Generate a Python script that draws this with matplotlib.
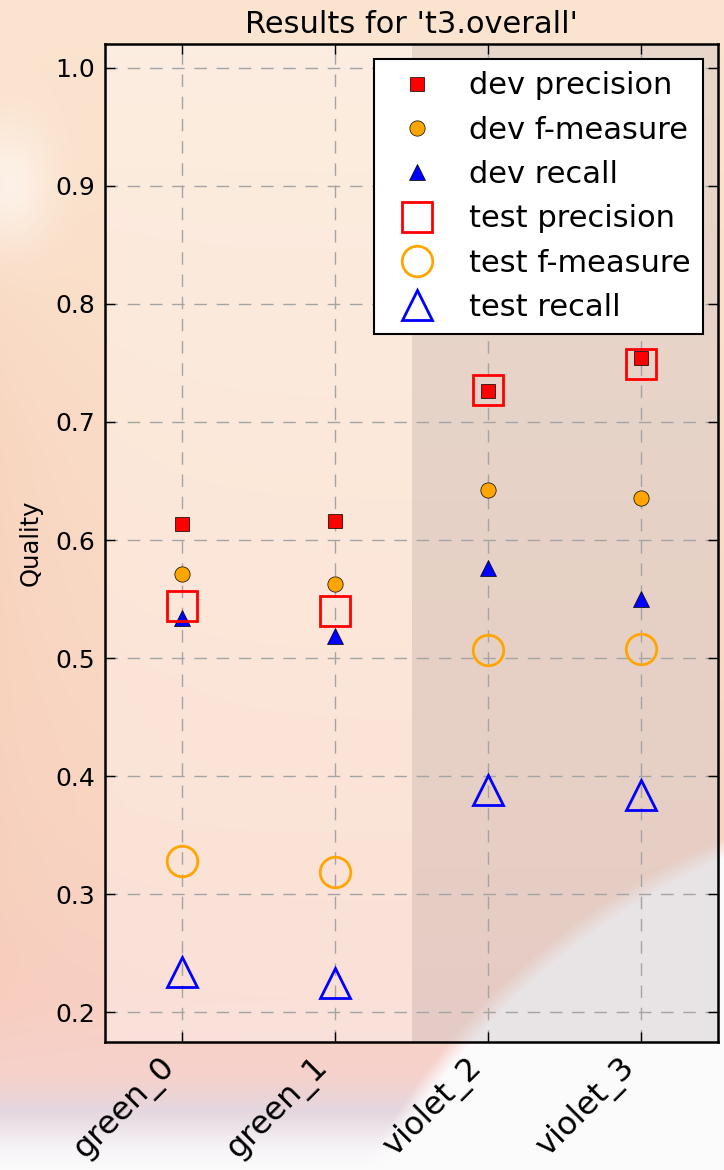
import numpy as np
import matplotlib
matplotlib.use('Agg')
import matplotlib.pyplot as plt


# data
runs = ['green_0', 'green_1', 'violet_2', 'violet_3']
dev_precision = [0.614, 0.616, 0.726, 0.754]
dev_fmeasure = [0.571, 0.563, 0.642, 0.636]
dev_recall = [0.534, 0.519, 0.576, 0.550]
test_precision = [0.544, 0.540, 0.727, 0.749]
test_fmeasure = [0.328, 0.319, 0.507, 0.508]
test_recall = [0.234, 0.225, 0.388, 0.384]
yticks = [0.2, 0.3, 0.4, 0.5, 0.6, 0.7, 0.8, 0.9, 1.0]


# background picture (peach wash, white splash, pale planet lower right)
H, W = 1170, 724
yy, xx = np.mgrid[0:H, 0:W].astype(float)

ys = [0, 400, 800, 1000, 1075, 1110, 1150, 1170]
cols = np.array([[251, 229, 208], [250, 222, 200], [249, 214, 195],
                 [248, 208, 196], [246, 210, 204], [228, 214, 222],
                 [248, 245, 248], [252, 252, 252]]) / 255.
bg = np.stack([np.interp(yy, ys, cols[:, k]) for k in range(3)], axis=-1)

# more saturated on the left edge
m = 0.35 * np.exp(-xx / 70.) * np.clip((yy - 150) / 300., 0, 1) * np.clip((1080 - yy) / 100., 0, 1)
bg = bg * (1 - m[..., None]) + np.array([245, 200, 178]) / 255. * m[..., None]

# white splash top left
m = 0.55 * np.exp(-(((xx - 10) / 40.) ** 2 + ((yy - 185) / 60.) ** 2))
bg = bg * (1 - m[..., None]) + m[..., None]

# planet
d = np.sqrt((xx - 1005) ** 2 + (yy - 1506) ** 2)
m = np.clip((716 - d) / 18. + 0.5, 0, 1)
bg = bg * (1 - m[..., None]) + np.array([252, 251, 252]) / 255. * m[..., None]


fig = plt.figure(figsize=(7.24, 11.7), dpi=100)
fig.figimage(bg, xo=0, yo=0, origin='upper', zorder=-5)

ax = fig.add_axes([105 / 724, 1 - 1042 / 1170, 613 / 724, 998 / 1170])
ax.set_facecolor('none')
ax.set_axisbelow(True)

x = np.arange(len(runs))

ax.axvspan(-0.5, 1.5, color='white', alpha=0.35, lw=0, zorder=0.1)
ax.axvspan(1.5, 3.5, color=(0.82, 0.78, 0.78), alpha=0.45, lw=0, zorder=0.1)

ax.plot(x, dev_precision, 's', ms=10.5, mfc='red', mec='black', mew=0.5, label='dev precision')
ax.plot(x, dev_fmeasure, 'o', ms=11, mfc='orange', mec='black', mew=0.5, label='dev f-measure')
ax.plot(x, dev_recall, '^', ms=11, mfc='blue', mec='black', mew=0.5, label='dev recall')
ax.plot(x, test_precision, 's', ms=21, mfc='none', mec='red', mew=2, label='test precision')
ax.plot(x, test_fmeasure, 'o', ms=22, mfc='none', mec='orange', mew=2, label='test f-measure')
ax.plot(x, test_recall, '^', ms=21, mfc='none', mec='blue', mew=2, label='test recall')

ax.set_xlim(-0.5, 3.5)
ax.set_ylim(0.175, 1.02)
ax.set_xticks(x)
ax.set_xticklabels(runs, rotation=45, ha='right', fontsize=23)
ax.set_yticks(yticks)
ax.set_yticklabels(['%.1f' % v for v in yticks])

ax.grid(True, color='#a4a4a4', linestyle=(0, (9, 7)), linewidth=1.0)
ax.tick_params(direction='in', top=True, right=True, length=7, width=1, pad=7)
ax.tick_params(axis='y', labelsize=18)
for s in ax.spines.values():
    s.set_linewidth(1.8)

ax.set_title("Results for 't3.overall'", fontsize=22, pad=8)
ax.set_ylabel('Quality', fontsize=17.5, labelpad=9)

leg = ax.legend(loc='upper right', numpoints=1, fontsize=22, labelspacing=0.5,
                handlelength=2.0, handletextpad=0.7, borderpad=0.4,
                fancybox=False, edgecolor='black', framealpha=1)
leg.get_frame().set_linewidth(1.5)

fig.savefig('out.png', dpi=100)
